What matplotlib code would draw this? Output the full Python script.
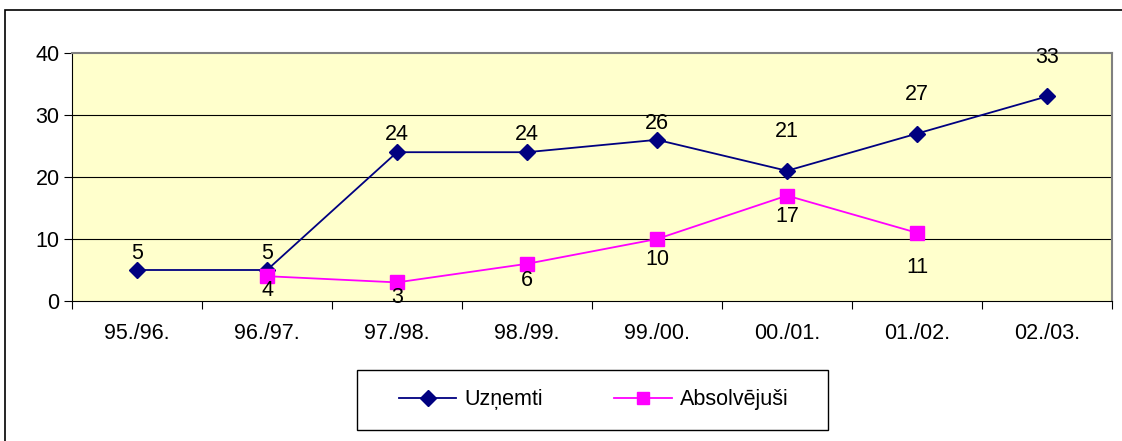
import matplotlib
matplotlib.use("Agg")
import matplotlib.pyplot as plt
import numpy as np
from matplotlib.patches import Rectangle
from matplotlib.lines import Line2D

plt.rcParams['font.family'] = ['Liberation Sans', 'DejaVu Sans']

categories = ["95./96.", "96./97.", "97./98.", "98./99.", "99./00.", "00./01.", "01./02.", "02./03."]
uznemti = [5, 5, 24, 24, 26, 21, 27, 33]
absolvejusi = [np.nan, 4, 3, 6, 10, 17, 11, np.nan]

# label offsets in points (style)
uz_off = [12, 12, 13, 13, 12, 28, 28, 28]
ab_off = [-10, -11, -12, -15, -15, -25]

FS = 15.5
W, H = 1122, 441
fig = plt.figure(figsize=(W / 100, H / 100), dpi=100)
fig.patch.set_facecolor("white")

# outer chart border
fig.patches.append(Rectangle((5 / W, -0.1), 1.2, (H - 10) / H + 0.1, transform=fig.transFigure,
                             fill=False, edgecolor="black", linewidth=1.2, zorder=0))

ax = fig.add_axes([72 / W, 1 - 301 / H, (1112 - 72) / W, (301 - 53) / H])
ax.set_facecolor("#FFFFCC")
x = np.arange(len(categories))
ax.set_xlim(-0.5, len(categories) - 0.5)
ax.set_ylim(0, 40)
ax.set_yticks([0, 10, 20, 30, 40])
ax.set_xticks(np.arange(-0.5, len(categories), 1.0))
ax.set_xticklabels([])
ax.set_xticks(x, minor=True)
ax.set_xticklabels(categories, minor=True)
ax.tick_params(axis='x', which='minor', length=0, pad=16, labelsize=FS)
ax.tick_params(axis='x', which='major', length=6, direction='out', color='black')
ax.tick_params(axis='y', length=6, direction='out', labelsize=FS, pad=3)
for v in [10, 20, 30]:
    ax.axhline(v, color='black', linewidth=0.8, zorder=1)
ax.spines['top'].set_color('#808080')
ax.spines['right'].set_color('#808080')
ax.spines['top'].set_linewidth(1.5)
ax.spines['right'].set_linewidth(1.5)
ax.spines['left'].set_color('black')
ax.spines['bottom'].set_color('black')

ax.plot(x, uznemti, color="#000080", linewidth=1.3, marker='D', markersize=8.5,
        markerfacecolor="#000080", markeredgecolor="#000080", zorder=3, clip_on=False)
ax.plot(x, absolvejusi, color="#FF00FF", linewidth=1.3, marker='s', markersize=10,
        markerfacecolor="#FF00FF", markeredgecolor="#FF00FF", zorder=4, clip_on=False)

for xi, v, o in zip(x, uznemti, uz_off):
    ax.annotate(str(v), (xi, v), xytext=(0, o), textcoords='offset points',
                ha='center', va='center', fontsize=FS, zorder=5)
ab_idx = [i for i, v in enumerate(absolvejusi) if not np.isnan(v)]
for k, i in enumerate(ab_idx):
    v = absolvejusi[i]
    ax.annotate(str(int(v)), (x[i], v), xytext=(0, ab_off[k]), textcoords='offset points',
                ha='center', va='center', fontsize=FS, zorder=5)

# legend frame
fig.patches.append(Rectangle((357 / W, 1 - 430 / H), 471 / W, 60 / H, transform=fig.transFigure,
                             fill=False, edgecolor="black", linewidth=1.0, zorder=1))
handles = [Line2D([], [], color="#000080", linewidth=1.3, marker='D', markersize=8.5),
           Line2D([], [], color="#FF00FF", linewidth=1.3, marker='s', markersize=9)]
leg = fig.legend(handles, ["Uzņemti", "Absolvējuši"], loc='center',
                 bbox_to_anchor=(594 / W, 1 - 400 / H), ncol=2, fontsize=FS,
                 frameon=False, handlelength=2.65,
                 columnspacing=3.3, borderpad=0.5, handletextpad=0.4, borderaxespad=0)

fig.savefig("out.png", dpi=100)
